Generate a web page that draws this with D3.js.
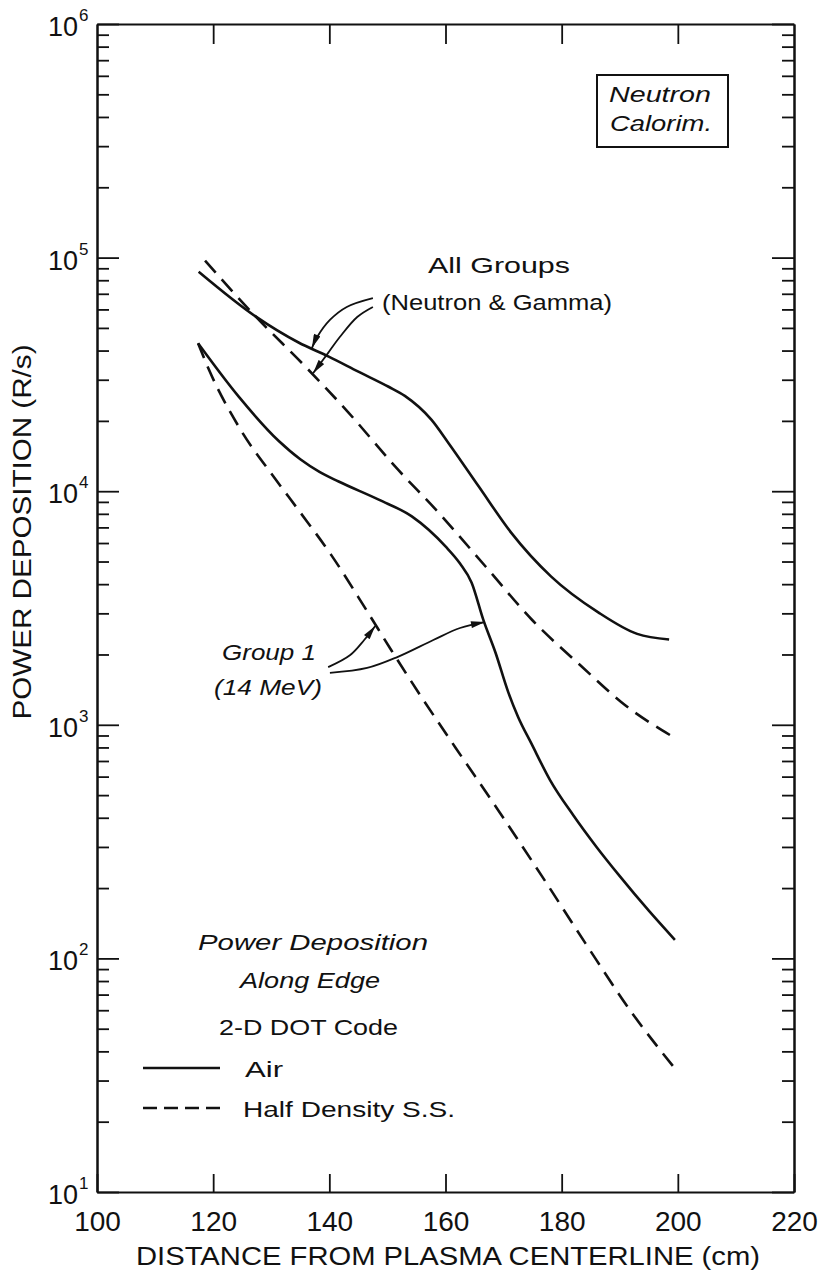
<!DOCTYPE html>
<html><head><meta charset="utf-8">
<script src="https://cdn.jsdelivr.net/npm/d3@7"></script>
<style>
body{margin:0;background:#fff}
svg{display:block}
text{font-family:"Liberation Sans",Arial,sans-serif;fill:#111}
</style>
</head><body>
<svg id="c" width="824" height="1272"></svg>
<script>
// ---------- data ----------
const xTickValues = [100, 120, 140, 160, 180, 200, 220];
const xTickLabels = ["100", "120", "140", "160", "180", "200", "220"];
const yDecades = [1e1, 1e2, 1e3, 1e4, 1e5, 1e6];
const yExponents = ["1", "2", "3", "4", "5", "6"];

// Air, all groups (neutron & gamma)
const airAllX = [117.5, 127.3, 134.7, 139.9, 145.0, 150.2, 153.0, 157.6, 160.5, 165.7, 171.3, 178.2, 186.3, 193.0, 198.5];
const airAllY = [87000, 56000, 43300, 37700, 32500, 28000, 25600, 20200, 16100, 10500, 6650, 4310, 3030, 2450, 2320];
// Half density S.S., all groups
const hdAllX = [118.6, 127.3, 135.9, 143.3, 151.4, 158.8, 166.9, 174.8, 183.4, 191.0, 199.1];
const hdAllY = [97000, 56000, 34100, 21700, 12700, 8100, 4760, 2830, 1780, 1210, 890];
// Air, group 1 (14 MeV)
const airG1X = [117.4, 124.4, 131.3, 135.0, 138.3, 141.6, 148.5, 154.2, 160.0, 162.5, 164.5, 166.5, 168.6, 170.8, 172.5, 174.8, 178.0, 182.0, 186.0, 190.0, 195.0, 199.5];
const airG1Y = [43000, 25400, 16400, 13700, 12100, 11000, 9200, 7800, 5800, 4900, 4060, 2820, 2040, 1380, 1080, 830, 580, 410, 300, 225, 160, 120];
// Half density S.S., group 1 (14 MeV)
const hdG1X = [117.4, 119.3, 124.4, 130.8, 134.7, 140.4, 146.2, 150.7, 155.9, 161.7, 169.1, 176.6, 184.1, 192.2, 199.4];
const hdG1Y = [43000, 33000, 18900, 11200, 8300, 5300, 3150, 2080, 1310, 800, 430, 225, 116, 58, 34];

// annotation arrows (data coordinates: cm, R/s)
const arrowAllToAir = [[147.5, 67100], [143.0, 61500], [140.1, 54100], [137.9, 45700], [137.0, 41000]];
const arrowAllToHD  = [[147.5, 61500], [144.8, 55700], [141.8, 45700], [139.8, 39100], [137.2, 32000]];
const arrowG1ToHD   = [[139.8, 1766], [143.6, 1990], [146.0, 2307], [147.9, 2650]];
const arrowG1ToAir  = [[140.1, 1668], [146.5, 1751], [151.7, 1950], [157.9, 2307], [162.5, 2596], [166.8, 2754]];

// ---------- chart ----------
const W = 824, H = 1272;
const svg = d3.select("#c");
svg.append("rect").attr("width", W).attr("height", H).attr("fill", "#fff");

const x = d3.scaleLinear().domain([100, 220]).range([97, 794]);
const y = d3.scaleLog().domain([10, 1e6]).range([1192, 24]);

const minorVals = [];
yDecades.slice(0, -1).forEach(d => { for (let m = 2; m <= 9; m++) minorVals.push(m * d); });

function styleAxis(g) {
  g.selectAll("path.domain").attr("stroke", "#111").attr("stroke-width", 2);
  g.selectAll(".tick line").attr("stroke", "#111").attr("stroke-width", 1.8);
}

// bottom axis with labels
const gB = svg.append("g").attr("transform", `translate(0,${y.range()[0]})`)
  .call(d3.axisBottom(x).tickValues(xTickValues).tickSize(-18).tickSizeOuter(0).tickPadding(19)
    .tickFormat((d, i) => xTickLabels[i]));
styleAxis(gB);
gB.selectAll(".tick text").attr("font-size", 28).attr("fill", "#111")
  .attr("font-family", '"Liberation Sans",Arial,sans-serif');

// top axis
const gT = svg.append("g").attr("transform", `translate(0,${y.range()[1]})`)
  .call(d3.axisTop(x).tickValues(xTickValues.slice(1, -1)).tickSize(-20).tickSizeOuter(0).tickFormat(""));
styleAxis(gT);

// left axis
const gL = svg.append("g").attr("transform", `translate(${x.range()[0]},0)`)
  .call(d3.axisLeft(y).tickValues(yDecades).tickSize(-22).tickSizeOuter(0).tickFormat(""));
styleAxis(gL);
const gLm = svg.append("g").attr("transform", `translate(${x.range()[0]},0)`)
  .call(d3.axisLeft(y).tickValues(minorVals).tickSize(-12).tickSizeOuter(0).tickFormat(""));
styleAxis(gLm);

// right axis
const gR = svg.append("g").attr("transform", `translate(${x.range()[1]},0)`)
  .call(d3.axisRight(y).tickValues(yDecades).tickSize(-22).tickSizeOuter(0).tickFormat(""));
styleAxis(gR);
const gRm = svg.append("g").attr("transform", `translate(${x.range()[1]},0)`)
  .call(d3.axisRight(y).tickValues(minorVals).tickSize(-12).tickSizeOuter(0).tickFormat(""));
styleAxis(gRm);

// y tick labels 10^n
const yl = svg.append("g");
yDecades.forEach((d, i) => {
  yl.append("text").attr("x", 78).attr("y", y(d) + 12)
    .attr("text-anchor", "end").attr("font-size", 27).text("10");
  yl.append("text").attr("x", 79).attr("y", y(d) - 3).attr("font-size", 17).text(yExponents[i]);
});

// axis titles
svg.append("text").attr("x", 136).attr("y", 1265).attr("font-size", 25)
  .attr("textLength", 624).attr("lengthAdjust", "spacingAndGlyphs")
  .text("DISTANCE FROM PLASMA CENTERLINE (cm)");
svg.append("text").attr("transform", "translate(31,532) rotate(-90)")
  .attr("text-anchor", "middle").attr("font-size", 25)
  .attr("textLength", 375).attr("lengthAdjust", "spacingAndGlyphs")
  .text("POWER DEPOSITION (R/s)");

// curves
const line = d3.line().x(d => x(d[0])).y(d => y(d[1])).curve(d3.curveMonotoneX);
const zip = (a, b) => a.map((v, i) => [v, b[i]]);
const series = [
  {x: airAllX, y: airAllY, dash: null},
  {x: hdAllX, y: hdAllY, dash: "16,9"},
  {x: airG1X, y: airG1Y, dash: null},
  {x: hdG1X, y: hdG1Y, dash: "16,9"}
];
svg.append("g").selectAll("path").data(series).join("path")
  .attr("d", s => line(zip(s.x, s.y)))
  .attr("fill", "none").attr("stroke", "#111").attr("stroke-width", 2.6)
  .attr("stroke-dasharray", s => s.dash);

// arrow marker
const defs = svg.append("defs");
defs.append("marker").attr("id", "ah").attr("viewBox", "0 0 14 7")
  .attr("refX", 14).attr("refY", 3.5).attr("markerWidth", 15).attr("markerHeight", 7)
  .attr("markerUnits", "userSpaceOnUse").attr("orient", "auto")
  .append("path").attr("d", "M0,0L14,3.5L0,7Z").attr("fill", "#111");

const aline = d3.line().x(d => x(d[0])).y(d => y(d[1])).curve(d3.curveCatmullRom);
svg.append("g").selectAll("path")
  .data([arrowAllToAir, arrowAllToHD, arrowG1ToHD, arrowG1ToAir]).join("path")
  .attr("d", aline).attr("fill", "none").attr("stroke", "#111").attr("stroke-width", 1.8)
  .attr("marker-end", "url(#ah)");

// annotation text
const ann = svg.append("g").attr("font-size", 22);
function label(txt, px, py, len, opts = {}) {
  const t = ann.append("text").attr("x", px).attr("y", py).text(txt);
  if (len) t.attr("textLength", len).attr("lengthAdjust", "spacingAndGlyphs");
  if (opts.italic) t.attr("font-style", "italic");
  if (opts.size) t.attr("font-size", opts.size);
  return t;
}
// box
ann.append("rect").attr("x", 597).attr("y", 75).attr("width", 131).attr("height", 72)
  .attr("fill", "none").attr("stroke", "#111").attr("stroke-width", 2);
label("Neutron", 609, 102, 102, {italic: true});
label("Calorim.", 610, 131, 102, {italic: true});

label("All Groups", 428, 273, 142);
label("(Neutron & Gamma)", 382, 310, 230);
label("Group 1", 222, 660, 94, {italic: true});
label("(14 MeV)", 214, 695, 108, {italic: true});

label("Power Deposition", 198, 950, 230, {italic: true});
label("Along Edge", 240, 988, 140, {italic: true});
label("2-D DOT Code", 219, 1035, 179);
label("Air", 245, 1077, 38);
label("Half Density S.S.", 243, 1117, 212);

// legend swatches
const lg = svg.append("g").attr("stroke", "#111").attr("stroke-width", 2.4);
lg.append("line").attr("x1", 143).attr("x2", 220).attr("y1", 1068).attr("y2", 1068);
lg.append("line").attr("x1", 143).attr("x2", 222).attr("y1", 1108).attr("y2", 1108)
  .attr("stroke-dasharray", "14,7");
</script>
</body></html>
